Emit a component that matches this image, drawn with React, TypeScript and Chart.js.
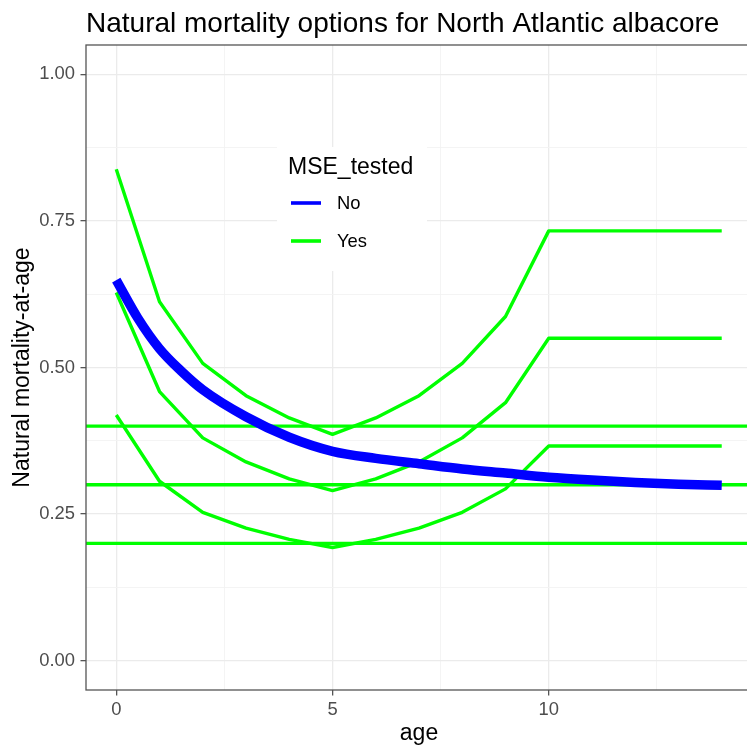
import React, { useEffect, useRef } from 'react';
import { Chart, registerables } from 'chart.js';

Chart.register(...registerables);

const FONT = '"Liberation Sans", Arial, Helvetica, sans-serif';

const TITLE = 'Natural mortality options for North Atlantic albacore';
const X_TITLE = 'age';
const Y_TITLE = 'Natural mortality-at-age';
const LEGEND_TITLE = 'MSE_tested';
const LEGEND_LABELS = ['No', 'Yes'];

// axis limits (ggplot default 5% expansion)
const X_MIN = -0.7;
const X_MAX = 14.7;
const Y_MIN = -0.05;
const Y_MAX = 1.05;

const X_MAJOR = [0, 5, 10];
const X_MINOR = [2.5, 7.5, 12.5];
const Y_MAJOR = [0, 0.25, 0.5, 0.75, 1.0];
const Y_MINOR = [0.125, 0.375, 0.625, 0.875];

// "No" series (blue)
const NO_AGES = [0, 0.5, 1, 1.5, 2, 3, 4, 5, 6, 7, 8, 9, 10, 11, 12, 13, 14];
const NO_M = [0.649, 0.584, 0.532, 0.494, 0.462, 0.416, 0.381, 0.357, 0.345, 0.336, 0.327, 0.320, 0.313, 0.308, 0.304, 0.301, 0.299];

// "Yes" series (green)
const YES_AGES = [0, 1, 2, 3, 4, 5, 6, 7, 8, 9, 10, 11, 12, 13, 14];
const YES_UPPER = [0.838, 0.612, 0.507, 0.452, 0.414, 0.386, 0.414, 0.452, 0.507, 0.587, 0.733, 0.733, 0.733, 0.733, 0.733];
const YES_MID = [0.628, 0.459, 0.380, 0.339, 0.310, 0.290, 0.310, 0.339, 0.380, 0.440, 0.550, 0.550, 0.550, 0.550, 0.550];
const YES_LOW = [0.419, 0.306, 0.253, 0.226, 0.207, 0.193, 0.207, 0.226, 0.253, 0.293, 0.366, 0.366, 0.366, 0.366, 0.366];
const YES_CONST = [0.4, 0.3, 0.2];

const BLUE = '#0000FF';
const GREEN = '#00FF00';

const decor = {
  id: 'decor',
  afterDraw(chart: any) {
    const { ctx, chartArea: a } = chart;
    ctx.save();
    // panel border
    ctx.strokeStyle = '#555555';
    ctx.lineWidth = 1.3;
    ctx.strokeRect(a.left, a.top, a.right - a.left, a.bottom - a.top);
    // title
    ctx.fillStyle = '#000000';
    ctx.font = `28px ${FONT}`;
    ctx.textAlign = 'left';
    ctx.textBaseline = 'alphabetic';
    ctx.fillText(TITLE, a.left, 32);
    // legend
    const lx = 277, ly = 147, lw = 150, lh = 124;
    ctx.fillStyle = '#FFFFFF';
    ctx.fillRect(lx, ly, lw, lh);
    ctx.fillStyle = '#000000';
    ctx.font = `23px ${FONT}`;
    ctx.fillText(LEGEND_TITLE, 288, 173.5);
    const colors = [BLUE, GREEN];
    const ys = [203, 241];
    ctx.font = `18.4px ${FONT}`;
    ctx.textBaseline = 'middle';
    LEGEND_LABELS.forEach((lab, i) => {
      ctx.strokeStyle = colors[i];
      ctx.lineWidth = 3.6;
      ctx.lineCap = 'butt';
      ctx.beginPath();
      ctx.moveTo(291, ys[i]);
      ctx.lineTo(321, ys[i]);
      ctx.stroke();
      ctx.fillStyle = '#000000';
      ctx.fillText(lab, 337, ys[i] + 1);
    });
    ctx.restore();
  },
};

export default function App() {
  const ref = useRef<HTMLCanvasElement>(null);

  useEffect(() => {
    if (!ref.current) return;
    Chart.defaults.font.family = FONT;

    const green = (xs: number[], ys: number[]) => ({
      data: xs.map((x, i) => ({ x, y: ys[i] })),
      borderColor: GREEN,
      borderWidth: 3.4,
      borderJoinStyle: 'round',
      borderCapStyle: 'butt',
      pointRadius: 0,
      order: 1,
    });

    const datasets: any[] = [
      {
        label: 'No',
        data: NO_AGES.map((x, i) => ({ x, y: NO_M[i] })),
        borderColor: BLUE,
        borderWidth: 9.5,
        borderJoinStyle: 'round',
        borderCapStyle: 'butt',
        cubicInterpolationMode: 'monotone',
        pointRadius: 0,
        order: 0,
      },
      green(YES_AGES, YES_UPPER),
      green(YES_AGES, YES_MID),
      green(YES_AGES, YES_LOW),
      ...YES_CONST.map((v) => green([X_MIN, X_MAX], [v, v])),
    ];

    const allX = [...X_MAJOR, ...X_MINOR].sort((p, q) => p - q);
    const allY = [...Y_MAJOR, ...Y_MINOR].sort((p, q) => p - q);

    const gridColor = (majors: number[]) => (c: any) =>
      c.tick && majors.includes(c.tick.value) ? '#EBEBEB' : '#F3F3F3';
    const gridWidth = (majors: number[]) => (c: any) =>
      c.tick && majors.includes(c.tick.value) ? 1.3 : 0.9;
    const tickColor = (majors: number[]) => (c: any) =>
      c.tick && majors.includes(c.tick.value) ? '#555555' : 'rgba(0,0,0,0)';

    const chart = new Chart(ref.current, {
      type: 'line',
      data: { datasets },
      plugins: [decor],
      options: {
        animation: false,
        responsive: false,
        layout: { padding: { top: 45, right: 4, bottom: 0, left: 0 } },
        plugins: {
          legend: { display: false },
          tooltip: { enabled: false },
          title: { display: false },
        },
        scales: {
          x: {
            type: 'linear',
            min: X_MIN,
            max: X_MAX,
            afterBuildTicks: (s: any) => {
              s.ticks = allX.map((v) => ({ value: v }));
            },
            afterFit: (s: any) => {
              s.height = 62;
            },
            ticks: {
              autoSkip: false,
              maxRotation: 0,
              padding: 3,
              color: '#4D4D4D',
              font: { size: 18.4, family: FONT },
              callback: (v: any) => (X_MAJOR.includes(v) ? String(v) : ''),
            },
            grid: {
              color: gridColor(X_MAJOR),
              lineWidth: gridWidth(X_MAJOR),
              tickLength: 5.5,
              tickColor: tickColor(X_MAJOR),
              tickWidth: 1.3,
            },
            border: { display: false },
            title: {
              display: true,
              text: X_TITLE,
              color: '#000000',
              font: { size: 23, family: FONT },
              padding: { top: 0, bottom: 5 },
            },
          },
          y: {
            type: 'linear',
            min: Y_MIN,
            max: Y_MAX,
            afterBuildTicks: (s: any) => {
              s.ticks = allY.map((v) => ({ value: v }));
            },
            afterFit: (s: any) => {
              s.width = 86;
            },
            ticks: {
              autoSkip: false,
              padding: 5.5,
              color: '#4D4D4D',
              font: { size: 18.4, family: FONT },
              callback: (v: any) => (Y_MAJOR.includes(v) ? Number(v).toFixed(2) : ''),
            },
            grid: {
              color: gridColor(Y_MAJOR),
              lineWidth: gridWidth(Y_MAJOR),
              tickLength: 5.5,
              tickColor: tickColor(Y_MAJOR),
              tickWidth: 1.3,
            },
            border: { display: false },
            title: {
              display: true,
              text: Y_TITLE,
              color: '#000000',
              font: { size: 23, family: FONT },
              padding: { top: 9, bottom: 0 },
            },
          },
        },
      } as any,
    });

    return () => chart.destroy();
  }, []);

  return (
    <div style={{ position: 'absolute', left: 0, top: 0, width: 747, height: 752, overflow: 'hidden', background: '#fff' }}>
      <canvas ref={ref} width={756} height={752} style={{ display: 'block', width: 756, height: 752 }} />
    </div>
  );
}
